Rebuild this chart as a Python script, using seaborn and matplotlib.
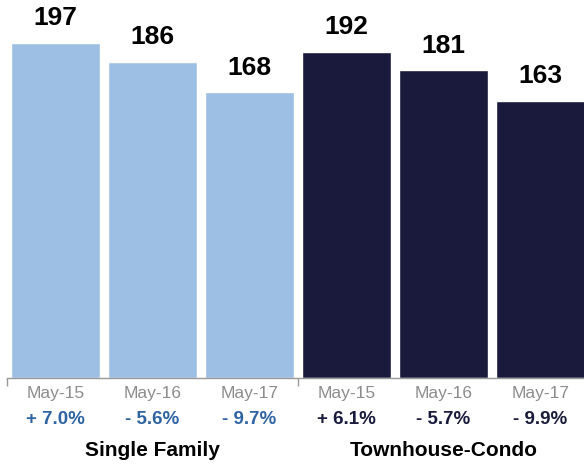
import pandas as pd
import matplotlib.pyplot as plt
import seaborn as sns

# chart values
groups = ['Single Family', 'Townhouse-Condo']
months = ['May-15', 'May-16', 'May-17']
single_family = [197, 186, 168]
townhouse = [192, 181, 163]
sf_change = ['+ 7.0%', '- 5.6%', '- 9.7%']
th_change = ['+ 6.1%', '- 5.7%', '- 9.9%']

light_blue = '#9dbfe3'
navy = '#1a1a3d'
pct_blue = '#2f64a3'

df = pd.DataFrame({
    'key': [g + ' ' + m for g in groups for m in months],
    'month': months * 2,
    'value': single_family + townhouse,
    'change': sf_change + th_change,
    'group': [g for g in groups for m in months],
})

sns.set_style('white')
plt.rcParams['font.family'] = ['Liberation Sans', 'DejaVu Sans']

fig = plt.figure(figsize=(5.84, 4.66), dpi=100)
ax = fig.add_axes([0.012, 0.189, 0.988, 0.811])

palette = [light_blue] * 3 + [navy] * 3
sns.barplot(data=df, x='key', y='value', hue='key', palette=palette,
            width=0.92, legend=False, ax=ax, saturation=1)

ax.set_xlim(-0.5, 5.45)
ax.set_ylim(0, 222.4)
ax.set_xlabel('')
ax.set_ylabel('')
ax.set_yticks([])
ax.set_xticks([-0.5, 2.5])
ax.set_xticklabels([])
ax.tick_params(axis='x', direction='out', length=6, width=1, color='#999999', bottom=True)
for s in ['top', 'right', 'left']:
    ax.spines[s].set_visible(False)
ax.spines['bottom'].set_color('#999999')
ax.spines['bottom'].set_linewidth(1)

trans = ax.get_xaxis_transform()
for i, row in df.iterrows():
    ax.text(i, row['value'] + 10.5, str(row['value']), ha='center', va='baseline',
            fontsize=19, fontweight='bold', color='black')
    ax.text(i, -0.040, row['month'], transform=trans, ha='center', va='center',
            fontsize=12.5, color='#8c8c8c')
    pc = pct_blue if row['group'] == groups[0] else navy
    ax.text(i, -0.111, row['change'], transform=trans, ha='center', va='center',
            fontsize=13.5, fontweight='bold', color=pc)

for j, g in enumerate(groups):
    ax.text(1 + 3 * j, -0.192, g, transform=trans, ha='center', va='center',
            fontsize=15, fontweight='bold', color='black')

plt.savefig('out.png', dpi=100)
plt.close()
